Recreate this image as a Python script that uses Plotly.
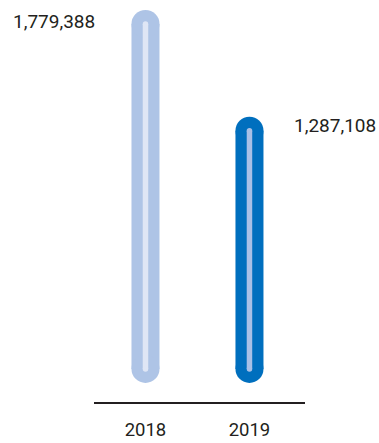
import plotly.graph_objects as go

years = ["2018", "2019"]
values = [1779388, 1287108]
labels = ["1,779,388", "1,287,108"]

outer_colors = ["#aec4e6", "#006fbe"]
inner_colors = ["#dfe6f5", "#a9c0e6"]
BASE = 188000  # bottom end of each capsule (style)

fig = go.Figure()
for i, (v, oc, ic) in enumerate(zip(values, outer_colors, inner_colors)):
    fig.add_trace(go.Scatter(
        x=[i, i], y=[BASE, v], mode="lines+markers",
        line=dict(color=oc, width=28),
        marker=dict(color=oc, size=28, line=dict(width=0)),
        hoverinfo="skip", showlegend=False,
    ))
    fig.add_trace(go.Scatter(
        x=[i, i], y=[BASE, v], mode="lines+markers",
        line=dict(color=ic, width=5.5),
        marker=dict(color=ic, size=5.5, line=dict(width=0)),
        hoverinfo="skip", showlegend=False,
    ))

lab_font = dict(family="Roboto", size=19, color="#231f20")
fig.add_annotation(x=0, y=values[0], text=labels[0], showarrow=False, font=lab_font,
                   xanchor="right", yanchor="middle", xshift=-48, yshift=3)
fig.add_annotation(x=1, y=values[1], text=labels[1], showarrow=False, font=lab_font,
                   xanchor="left", yanchor="middle", xshift=43, yshift=5)

fig.update_layout(
    width=379, height=443,
    margin=dict(l=94, r=74, t=0, b=41),
    paper_bgcolor="white", plot_bgcolor="white",
    font=dict(family="Roboto", size=18, color="#231f20"),
    xaxis=dict(range=[-0.495, 1.534], tickmode="array", tickvals=[0, 1],
               ticktext=years, showgrid=False, zeroline=False,
               showline=True, linecolor="#231f20", linewidth=2,
               tickfont=dict(family="Roboto", size=18.5, color="#231f20"),
               ticks="", ticklabelstandoff=10, fixedrange=True),
    yaxis=dict(range=[35500, 1890200], visible=False, showgrid=False,
               zeroline=False, fixedrange=True),
)

fig.write_html("out.html", config={"displayModeBar": False})
